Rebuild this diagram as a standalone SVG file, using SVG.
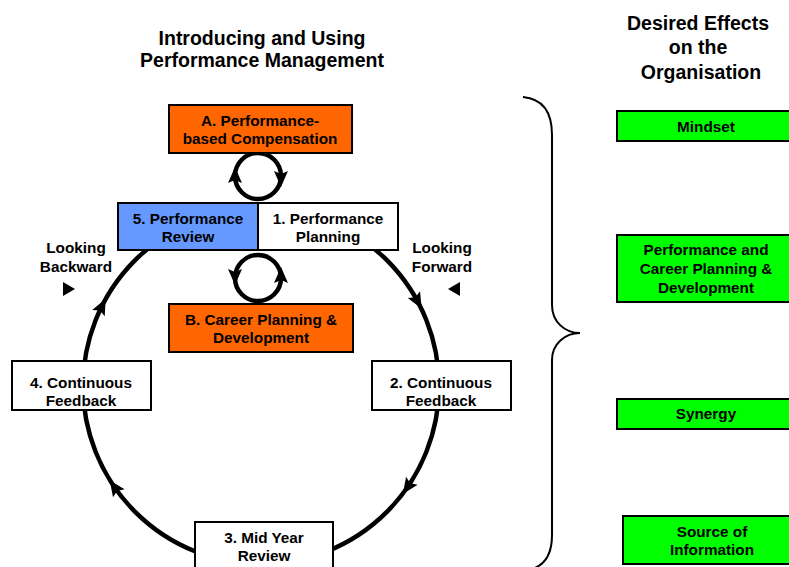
<svg xmlns="http://www.w3.org/2000/svg" width="789" height="567" viewBox="0 0 789 567">
  <defs>
    <style>
      text { font-family: "Liberation Sans", Arial, sans-serif; font-weight: bold; text-anchor: middle; fill: #000; }
      .title { font-size: 19.5px; }
      .lbl { font-size: 15.3px; }
      .box { stroke: #000; stroke-width: 2; }
      .white { fill: #fff; }
      .orange { fill: #ff6600; }
      .blue { fill: #6699ff; }
      .green { fill: #00ff00; }
      .ring { fill: none; stroke: #000; stroke-width: 4.5; }
    </style>
    <path id="ah" d="M9,0 L-7,-7 L-4,0 L-7,7 Z" fill="#000"/>
  </defs>

  <rect width="789" height="567" fill="#fff"/>

  <!-- headings -->
  <text class="title" x="262" y="45">Introducing and Using</text>
  <text class="title" x="262" y="67">Performance Management</text>
  <text class="title" x="698" y="30">Desired Effects</text>
  <text class="title" x="698" y="54">on the</text>
  <text class="title" x="701" y="79">Organisation</text>

  <!-- connectors: main cycle, small loops, bracket -->
  <g id="connectors">
    <circle class="ring" cx="261" cy="386" r="178"/>
    <use href="#ah" transform="translate(101.6,306.9) rotate(296.4)"/>
    <use href="#ah" transform="translate(417.3,300.8) rotate(61.4)"/>
    <use href="#ah" transform="translate(407.9,486.6) rotate(124.4)"/>
    <use href="#ah" transform="translate(114.8,487.6) rotate(235.2)"/>

    <circle class="ring" cx="258" cy="176" r="23"/>
    <use href="#ah" transform="translate(235,176) rotate(-90)"/>
    <use href="#ah" transform="translate(281,178) rotate(90)"/>

    <circle class="ring" cx="258" cy="278" r="23"/>
    <use href="#ah" transform="translate(235,276) rotate(90)"/>
    <use href="#ah" transform="translate(281,276) rotate(-90)"/>

    <path d="M523,97 C545,99 552,115 552,135 L552,305 C552,322 565,333 580,333 C565,333 552,344 552,360 L552,535 C552,555 545,565 532,569" fill="none" stroke="#000" stroke-width="2"/>
  </g>

  <!-- direction markers -->
  <g id="looking-backward">
    <text class="lbl" x="76" y="253">Looking</text>
    <text class="lbl" x="76" y="272">Backward</text>
    <polygon points="63,282 75,289 63,296" fill="#000"/>
  </g>
  <g id="looking-forward">
    <text class="lbl" x="442" y="253">Looking</text>
    <text class="lbl" x="442" y="272">Forward</text>
    <polygon points="460,282 448,289 460,296" fill="#000"/>
  </g>

  <!-- cycle nodes -->
  <g id="node-a">
    <rect class="box orange" x="169" y="105" width="183" height="48"/>
    <text class="lbl" x="260" y="126">A. Performance-</text>
    <text class="lbl" x="260" y="144">based Compensation</text>
  </g>
  <g id="node-5">
    <rect class="box blue" x="118" y="203" width="140" height="47"/>
    <text class="lbl" x="188" y="224">5. Performance</text>
    <text class="lbl" x="188" y="242">Review</text>
  </g>
  <g id="node-1">
    <rect class="box white" x="258" y="203" width="140" height="47"/>
    <text class="lbl" x="328" y="224">1. Performance</text>
    <text class="lbl" x="328" y="242">Planning</text>
  </g>
  <g id="node-b">
    <rect class="box orange" x="169" y="304" width="184" height="48"/>
    <text class="lbl" x="261" y="325">B. Career Planning &amp;</text>
    <text class="lbl" x="261" y="343">Development</text>
  </g>
  <g id="node-4">
    <rect class="box white" x="12" y="361" width="139" height="49"/>
    <text class="lbl" x="81" y="388">4. Continuous</text>
    <text class="lbl" x="81" y="406">Feedback</text>
  </g>
  <g id="node-2">
    <rect class="box white" x="372" y="361" width="139" height="49"/>
    <text class="lbl" x="441" y="388">2. Continuous</text>
    <text class="lbl" x="441" y="406">Feedback</text>
  </g>
  <g id="node-3">
    <rect class="box white" x="195" y="522" width="138" height="50"/>
    <text class="lbl" x="264" y="543">3. Mid Year</text>
    <text class="lbl" x="264" y="561">Review</text>
  </g>

  <!-- effects -->
  <g id="effect-mindset">
    <rect class="box green" x="617" y="111" width="180" height="30"/>
    <text class="lbl" x="706" y="132">Mindset</text>
  </g>
  <g id="effect-career">
    <rect class="box green" x="617" y="235" width="180" height="67"/>
    <text class="lbl" x="706" y="255">Performance and</text>
    <text class="lbl" x="706" y="274">Career Planning &amp;</text>
    <text class="lbl" x="706" y="293">Development</text>
  </g>
  <g id="effect-synergy">
    <rect class="box green" x="617" y="399" width="180" height="30"/>
    <text class="lbl" x="706" y="419">Synergy</text>
  </g>
  <g id="effect-source">
    <rect class="box green" x="623" y="516" width="180" height="48"/>
    <text class="lbl" x="712" y="537">Source of</text>
    <text class="lbl" x="712" y="555">Information</text>
  </g>
</svg>
